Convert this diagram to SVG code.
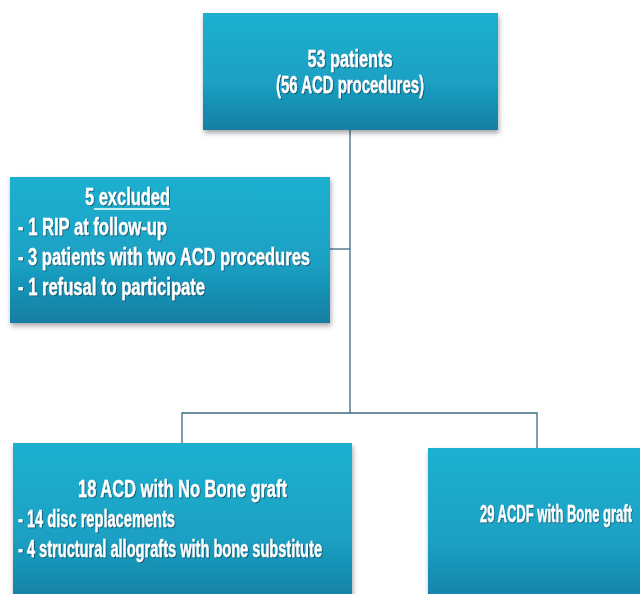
<svg xmlns="http://www.w3.org/2000/svg" width="640" height="594" viewBox="0 0 640 594">
<defs>
<linearGradient id="g" x1="0" y1="0" x2="0" y2="1">
<stop offset="0" stop-color="#1bb0d0"/>
<stop offset="0.6" stop-color="#1aa0c3"/>
<stop offset="1" stop-color="#157ea2"/>
</linearGradient>
<filter id="sh" x="-5%" y="-5%" width="110%" height="115%">
<feDropShadow dx="1" dy="3" stdDeviation="2.5" flood-color="#000" flood-opacity="0.35"/>
</filter>
<filter id="ts" x="-5%" y="-20%" width="110%" height="150%">
<feDropShadow dx="1" dy="1" stdDeviation="0.6" flood-color="#0a3f55" flood-opacity="0.7"/>
</filter>
</defs>
<style>
.box{fill:url(#g);filter:url(#sh)}
.t{font-family:"Liberation Sans",Arial,sans-serif;font-weight:bold;font-size:24px;fill:#fff;stroke:#fff;stroke-width:0.3;filter:url(#ts)}
.c{fill:none;stroke:#3d6a80;stroke-width:1.3}
</style>
<g id="connectors">
<path class="c" d="M350 130 V413"/>
<path class="c" d="M330 249 H350"/>
<path class="c" d="M182 443 V413 H537 V448"/>
</g>
<g id="n1">
<rect class="box" x="203" y="13" width="295" height="117"/>
<text class="t" x="350" y="67" text-anchor="middle" textLength="85" lengthAdjust="spacingAndGlyphs">53 patients</text>
<text class="t" x="350" y="93" text-anchor="middle" textLength="148" lengthAdjust="spacingAndGlyphs">(56 ACD procedures)</text>
</g>
<g id="n2">
<rect class="box" x="10" y="177" width="320" height="146"/>
<text class="t" x="85" y="205" textLength="85" lengthAdjust="spacingAndGlyphs">5 excluded</text>
<line x1="94" y1="209" x2="170" y2="209" stroke="#fff" stroke-width="1.5"/>
<text class="t" x="18" y="235" textLength="149" lengthAdjust="spacingAndGlyphs">- 1 RIP at follow-up</text>
<text class="t" x="18" y="265" textLength="292" lengthAdjust="spacingAndGlyphs">- 3 patients with two ACD procedures</text>
<text class="t" x="18" y="295" textLength="187" lengthAdjust="spacingAndGlyphs">- 1 refusal to participate</text>
</g>
<g id="n3">
<rect class="box" x="13" y="443" width="339" height="160"/>
<text class="t" x="78" y="497" textLength="209" lengthAdjust="spacingAndGlyphs">18 ACD with No Bone graft</text>
<text class="t" x="18" y="527" textLength="157" lengthAdjust="spacingAndGlyphs">- 14 disc replacements</text>
<text class="t" x="18" y="557" textLength="304" lengthAdjust="spacingAndGlyphs">- 4 structural allografts with bone substitute</text>
</g>
<g id="n4">
<rect class="box" x="428" y="448" width="220" height="160"/>
<text class="t" transform="scale(0.55 1)" x="872.7" y="522" textLength="276.4" lengthAdjust="spacingAndGlyphs">29 ACDF with Bone graft</text>
</g>
</svg>
